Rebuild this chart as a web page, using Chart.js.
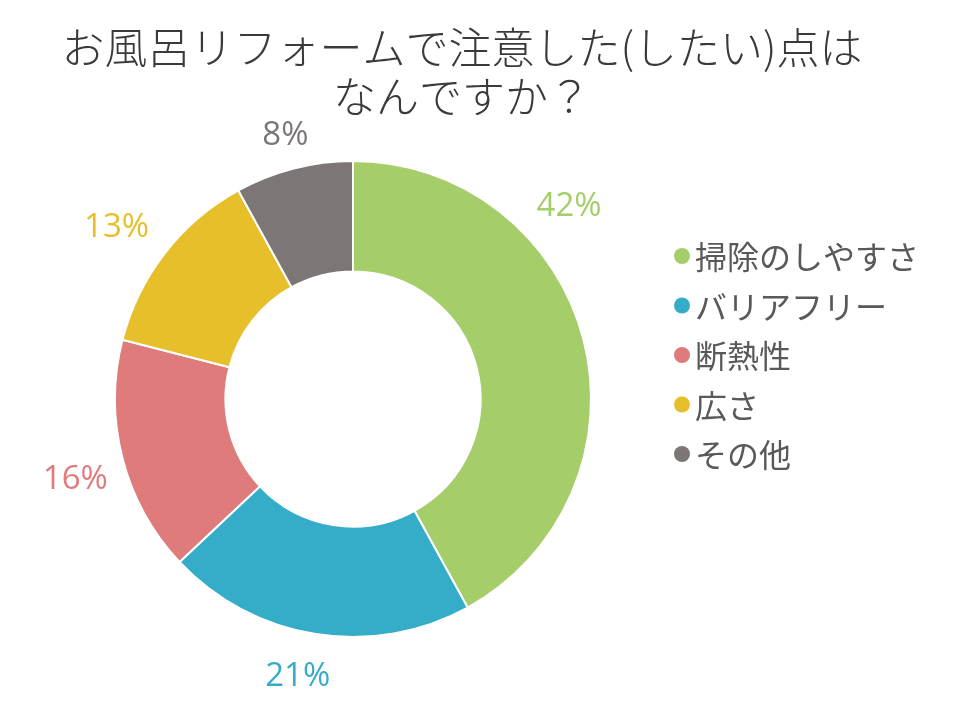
<!DOCTYPE html>
<html>
<head>
<meta charset="utf-8">
<script src="https://cdn.jsdelivr.net/npm/chart.js@4"></script>
<style>
  html,body{margin:0;padding:0;background:#fff;}
</style>
</head>
<body>
<canvas id="bathChart" width="960" height="711"></canvas>
<script>
/* global Chart */

const TITLE_LINES = ['お風呂リフォームで注意した(したい)点は', 'なんですか？'];
const CATEGORIES = ['掃除のしやすさ', 'バリアフリー', '断熱性', '広さ', 'その他'];
const SHARES = [42, 21, 16, 13, 8];

const COLORS = ['#a5cd6a', '#35adc9', '#e07b7b', '#e6bf2b', '#7c7677'];
// where inside each slice (0..1 of its sweep) the % label sits, and how far out
const LABEL_AT = [0.32, 0.53, 0.47, 0.46, 0.5];
const LABEL_GAP = [51, 45, 51, 54, 34];

const overlay = {
  id: 'overlay',
  afterDraw(chart) {
    const ctx = chart.ctx;
    const meta = chart.getDatasetMeta(0);
    ctx.save();
    ctx.textAlign = 'center';
    ctx.textBaseline = 'middle';

    // title
    ctx.fillStyle = '#3a3a3a';
    ctx.font = '300 43px "Noto Sans CJK JP"';
    TITLE_LINES.forEach((t, i) => ctx.fillText(t, 462, 48 + i * 49));

    // percentage labels outside the ring
    ctx.font = '33px "Open Sans"';
    meta.data.forEach((arc, i) => {
      const p = arc.getProps(['x', 'y', 'startAngle', 'endAngle', 'outerRadius'], true);
      const a = p.startAngle + (p.endAngle - p.startAngle) * LABEL_AT[i];
      const r = p.outerRadius + LABEL_GAP[i];
      ctx.fillStyle = COLORS[i];
      ctx.fillText(SHARES[i] + '%', p.x + Math.cos(a) * r, p.y + Math.sin(a) * r);
    });

    // legend
    ctx.textAlign = 'left';
    ctx.font = '32px "Noto Sans CJK JP"';
    CATEGORIES.forEach((c, i) => {
      const ly = 256 + i * 49.5;
      ctx.fillStyle = COLORS[i];
      ctx.beginPath();
      ctx.arc(682, ly, 8, 0, Math.PI * 2);
      ctx.fill();
      ctx.fillStyle = '#595959';
      ctx.fillText(c, 695, ly + 1);
    });
    ctx.restore();
  }
};

const ctx = document.getElementById('bathChart').getContext('2d');
new Chart(ctx, {
  type: 'doughnut',
  data: {
    labels: CATEGORIES,
    datasets: [{
      data: SHARES,
      backgroundColor: COLORS,
      borderColor: '#ffffff',
      borderWidth: 2
    }]
  },
  options: {
    responsive: false,
    animation: false,
    cutout: '53.6%',
    layout: { padding: { left: 114, right: 368, top: 160, bottom: 73 } },
    plugins: {
      legend: { display: false },
      tooltip: { enabled: false },
      title: { display: false }
    }
  },
  plugins: [overlay]
});
</script>
</body>
</html>
